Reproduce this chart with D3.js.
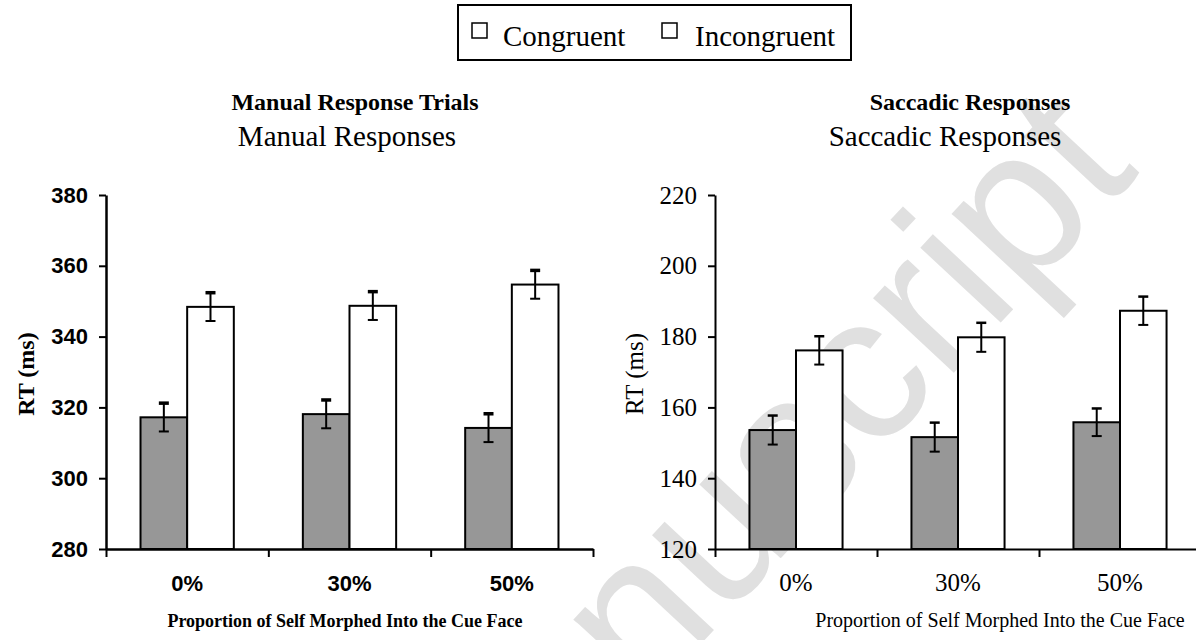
<!DOCTYPE html>
<meta charset="utf-8">
<script src="https://cdn.jsdelivr.net/npm/d3@7"></script>
<style>
  body { margin: 0; background: #fff; }
</style>
<div id="chart"></div>
<script>
// categories and values
var groups = ["0%", "30%", "50%"];
var series = ["Congruent", "Incongruent"];

var manualCongruent   = [317.2, 318.1, 314.2];
var manualIncongruent = [348.4, 348.7, 354.7];
var manualCongErr     = [4.0, 4.0, 4.0];
var manualIncongErr   = [4.0, 4.0, 4.0];
var manualTicks       = [280, 300, 320, 340, 360, 380];

var saccadeCongruent   = [153.6, 151.6, 155.8];
var saccadeIncongruent = [176.1, 179.8, 187.3];
var saccadeCongErr     = [4.1, 4.1, 3.9];
var saccadeIncongErr   = [4.0, 4.1, 4.0];
var saccadeTicks       = [120, 140, 160, 180, 200, 220];

var W = 1196, H = 640;
var svg = d3.select("#chart").append("svg")
    .attr("width", W)
    .attr("height", H);

// watermark
svg.append("text")
    .attr("transform", "translate(1141,172) rotate(-47)")
    .attr("text-anchor", "end")
    .style("font-family", "Liberation Sans, Arial, sans-serif")
    .style("font-size", "208px")
    .attr("fill", "#e0e0e0")
    .text("Author Manuscript");

// legend
var legend = svg.append("g");
legend.append("rect")
    .attr("x", 458).attr("y", 5)
    .attr("width", 393).attr("height", 55)
    .attr("fill", "#fff").attr("stroke", "#000").attr("stroke-width", 2);
var legX = [472, 662], legTx = [503, 695];
series.forEach(function(s, i) {
  legend.append("rect")
      .attr("x", legX[i]).attr("y", 23).attr("width", 15).attr("height", 15)
      .attr("fill", "#fff").attr("stroke", "#000").attr("stroke-width", 1.5);
  legend.append("text")
      .attr("x", legTx[i]).attr("y", 46)
      .style("font-family", "Liberation Serif, Times New Roman, serif")
      .style("font-size", "29px")
      .text(s);
});

function drawPanel(p) {
  var g = svg.append("g");

  var y = d3.scaleLinear().domain(p.domain).range([p.yBot, p.yTop]);
  var x = d3.scaleBand().domain(groups).range([p.x0, p.x1]);
  var xs = d3.scaleBand().domain(series).range([0, x.bandwidth()]).paddingOuter(0.74);
  var edges = d3.scaleLinear().domain([0, groups.length]).range([p.x0, p.x1]);

  // bars
  var rows = groups.map(function(gr, i) {
    return [
      {g: gr, s: series[0], v: p.cong[i], e: p.congErr[i]},
      {g: gr, s: series[1], v: p.incong[i], e: p.incongErr[i]}
    ];
  });
  var flat = [].concat.apply([], rows);

  g.selectAll(".bar")
    .data(flat)
    .enter().append("rect")
      .attr("x", function(d) { return x(d.g) + xs(d.s); })
      .attr("y", function(d) { return y(d.v); })
      .attr("width", xs.bandwidth())
      .attr("height", function(d) { return y(p.domain[0]) - y(d.v); })
      .attr("fill", function(d) { return d.s == "Congruent" ? "#979797" : "#fff"; })
      .attr("stroke", "#000")
      .attr("stroke-width", 2);

  // error bars
  var eb = g.selectAll(".err").data(flat).enter().append("g");
  var cx = function(d) { return x(d.g) + xs(d.s) + xs.bandwidth() / 2; };
  eb.append("line")
      .attr("x1", cx).attr("x2", cx)
      .attr("y1", function(d) { return y(d.v + d.e); })
      .attr("y2", function(d) { return y(d.v - d.e); })
      .attr("stroke", "#000").attr("stroke-width", 2);
  eb.append("line")
      .attr("x1", function(d) { return cx(d) - 5; })
      .attr("x2", function(d) { return cx(d) + 5; })
      .attr("y1", function(d) { return y(d.v + d.e); })
      .attr("y2", function(d) { return y(d.v + d.e); })
      .attr("stroke", "#000").attr("stroke-width", p.capTop);
  eb.append("line")
      .attr("x1", function(d) { return cx(d) - 5; })
      .attr("x2", function(d) { return cx(d) + 5; })
      .attr("y1", function(d) { return y(d.v - d.e); })
      .attr("y2", function(d) { return y(d.v - d.e); })
      .attr("stroke", "#000").attr("stroke-width", 2);

  // y axis
  var ya = g.append("g")
      .attr("transform", "translate(" + p.x0 + ",0)")
      .call(d3.axisLeft(y).tickValues(p.ticks).tickSize(7).tickSizeOuter(0).tickPadding(11));
  ya.select(".domain").attr("stroke-width", p.axisW);
  ya.selectAll(".tick line").attr("stroke-width", 2);
  ya.selectAll("text")
      .style("font-family", p.tickFont)
      .style("font-weight", p.tickWeight)
      .style("font-size", p.tickSize)
      .attr("fill", "#000");

  // x axis (ticks at group boundaries)
  var xa = g.append("g")
      .attr("transform", "translate(0," + p.yBot + ")")
      .call(d3.axisBottom(edges).tickValues(d3.range(groups.length + 1)).tickSize(8).tickSizeOuter(0).tickFormat(""));
  xa.select(".domain").attr("stroke-width", p.axisW);
  xa.selectAll(".tick line").attr("stroke-width", 2);

  // group labels
  g.selectAll(".glab")
    .data(groups)
    .enter().append("text")
      .attr("x", function(d) { return x(d) + x.bandwidth() / 2; })
      .attr("y", 591)
      .attr("text-anchor", "middle")
      .style("font-family", p.tickFont)
      .style("font-weight", p.tickWeight)
      .style("font-size", p.tickSize)
      .text(function(d) { return d; });

  // axis titles
  g.append("text")
      .attr("transform", "translate(" + p.yTitleX + ",374) rotate(-90)")
      .attr("text-anchor", "middle")
      .style("font-family", "Liberation Serif, Times New Roman, serif")
      .style("font-weight", p.titleWeight)
      .style("font-size", p.yTitleSize)
      .text("RT (ms)");
  g.append("text")
      .attr("x", p.xTitleX).attr("y", 627)
      .attr("text-anchor", "middle")
      .style("font-family", "Liberation Serif, Times New Roman, serif")
      .style("font-weight", p.titleWeight)
      .style("font-size", p.xTitleSize)
      .text("Proportion of Self Morphed Into the Cue Face");

  // panel titles
  g.append("text")
      .attr("x", p.boldX).attr("y", 110)
      .attr("text-anchor", "middle")
      .style("font-family", "Liberation Serif, Times New Roman, serif")
      .style("font-weight", "bold")
      .style("font-size", "24px")
      .text(p.boldTitle);
  g.append("text")
      .attr("x", p.subX).attr("y", 146)
      .attr("text-anchor", "middle")
      .style("font-family", "Liberation Serif, Times New Roman, serif")
      .style("font-size", "29px")
      .text(p.subTitle);
}

drawPanel({
  x0: 106, x1: 593, yTop: 195, yBot: 549, domain: [280, 380], ticks: manualTicks,
  cong: manualCongruent, incong: manualIncongruent,
  congErr: manualCongErr, incongErr: manualIncongErr,
  axisW: 2.5, capTop: 3.5,
  tickFont: "Liberation Sans, Arial, sans-serif", tickWeight: "bold", tickSize: "22px",
  titleWeight: "bold", yTitleX: 34, yTitleSize: "24px",
  xTitleX: 345, xTitleSize: "18px",
  boldTitle: "Manual Response Trials", boldX: 355,
  subTitle: "Manual Responses", subX: 347
});

drawPanel({
  x0: 715, x1: 1201, yTop: 195, yBot: 549, domain: [120, 220], ticks: saccadeTicks,
  cong: saccadeCongruent, incong: saccadeIncongruent,
  congErr: saccadeCongErr, incongErr: saccadeIncongErr,
  axisW: 2, capTop: 2.5,
  tickFont: "Liberation Serif, Times New Roman, serif", tickWeight: "normal", tickSize: "25px",
  titleWeight: "normal", yTitleX: 643, yTitleSize: "25px",
  xTitleX: 1000, xTitleSize: "20px",
  boldTitle: "Saccadic Responses", boldX: 970,
  subTitle: "Saccadic Responses", subX: 945
});
</script>
